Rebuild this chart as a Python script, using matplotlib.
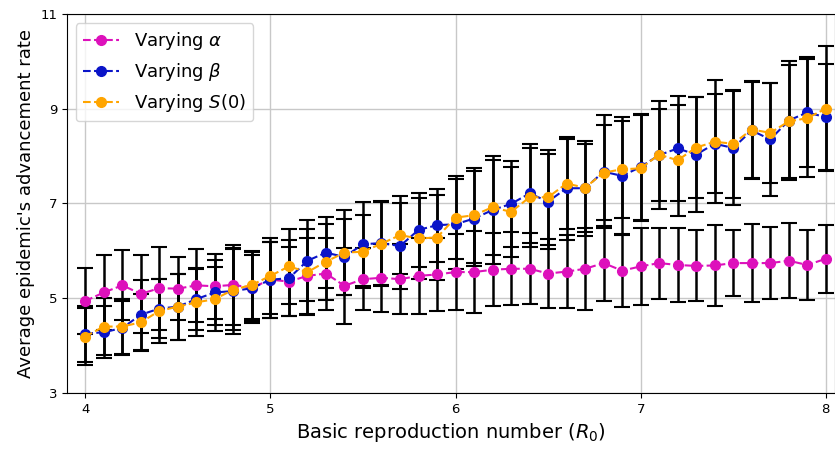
import numpy as np
import matplotlib
matplotlib.use("Agg")
import matplotlib.pyplot as plt

# basic reproduction numbers R0 = 4.0 ... 8.0
r0 = np.round(np.arange(4.0, 8.01, 0.1), 1)

# mean advancement rate
alpha_mean = [4.94, 5.12, 5.27, 5.09, 5.21, 5.20, 5.27, 5.25, 5.28, 5.22,
              5.39, 5.35, 5.47, 5.52, 5.26, 5.40, 5.43, 5.40, 5.47, 5.50,
              5.55, 5.55, 5.60, 5.62, 5.62, 5.52, 5.56, 5.62, 5.74, 5.58,
              5.67, 5.74, 5.70, 5.68, 5.69, 5.74, 5.74, 5.74, 5.79, 5.70, 5.83]
beta_mean = [4.25, 4.28, 4.37, 4.65, 4.78, 4.82, 4.98, 5.12, 5.15, 5.21,
             5.39, 5.42, 5.79, 5.96, 5.87, 6.14, 6.16, 6.10, 6.44, 6.54,
             6.56, 6.68, 6.86, 6.99, 7.21, 7.04, 7.32, 7.32, 7.67, 7.58,
             7.77, 8.02, 8.16, 8.03, 8.26, 8.17, 8.54, 8.35, 8.75, 8.92, 8.82]
s0_mean = [4.19, 4.40, 4.40, 4.49, 4.73, 4.82, 4.91, 4.98, 5.18, 5.28,
           5.47, 5.67, 5.55, 5.77, 5.96, 5.98, 6.15, 6.33, 6.26, 6.28,
           6.70, 6.75, 6.92, 6.82, 7.13, 7.13, 7.42, 7.33, 7.65, 7.72,
           7.74, 8.03, 7.91, 8.18, 8.30, 8.26, 8.56, 8.49, 8.73, 8.80, 9.00]

# standard deviations (half length of the error bars)
alpha_std = [0.70, 0.79, 0.74, 0.82, 0.88, 0.67, 0.77, 0.69, 0.85, 0.75,
             0.80, 0.72, 0.80, 0.76, 0.80, 0.65, 0.72, 0.74, 0.81, 0.78,
             0.81, 0.86, 0.77, 0.77, 0.75, 0.72, 0.77, 0.86, 0.79, 0.77,
             0.81, 0.75, 0.79, 0.75, 0.85, 0.70, 0.83, 0.76, 0.79, 0.74, 0.72]
beta_std = [0.59, 0.55, 0.58, 0.74, 0.62, 0.70, 0.65, 0.69, 0.90, 0.70,
            0.80, 0.80, 0.85, 0.75, 0.80, 0.88, 0.89, 0.91, 0.79, 0.77,
            0.95, 1.00, 1.14, 0.90, 1.05, 1.00, 1.09, 1.00, 1.19, 1.24,
            1.12, 1.14, 1.10, 1.21, 1.05, 1.20, 1.03, 1.20, 1.25, 1.16, 1.12]
s0_std = [0.60, 0.60, 0.58, 0.60, 0.68, 0.70, 0.70, 0.68, 0.85, 0.72,
          0.80, 0.79, 0.90, 0.80, 0.90, 0.77, 0.89, 0.82, 0.85, 0.90,
          0.88, 1.00, 1.00, 0.95, 1.05, 1.00, 0.95, 0.93, 1.00, 1.02,
          1.12, 0.97, 1.17, 1.07, 1.30, 1.14, 1.03, 1.05, 1.20, 1.25, 1.32]

series = [
    ("Varying $\\alpha$", alpha_mean, alpha_std, "#dd11bb"),
    ("Varying $\\beta$", beta_mean, beta_std, "#0a14c8"),
    ("Varying $S(0)$", s0_mean, s0_std, "#ffa500"),
]

fig = plt.figure(figsize=(8.35, 4.49), dpi=100)
ax = fig.add_axes([0.080, 0.125, 0.920, 0.844])

for label, mean, std, color in series:
    ax.errorbar(r0, mean, yerr=std, fmt="none", ecolor="black",
                elinewidth=1.8, capsize=6, capthick=1.5, zorder=2)
    ax.plot(r0, mean, "--o", color=color, markersize=7, linewidth=1.5,
            label=label, zorder=3)

ax.set_xlim(3.9, 8.05)
ax.set_ylim(3, 11)
ax.set_xticks([4, 5, 6, 7, 8])
ax.set_yticks([3, 5, 7, 9, 11])
ax.tick_params(labelsize=9.5)
ax.grid(True, color="#c8c8c8", linewidth=1)
ax.set_axisbelow(True)

ax.set_xlabel("Basic reproduction number ($R_0$)", fontsize=14)
ax.set_ylabel("Average epidemic's advancement rate", fontsize=13)
ax.legend(loc="upper left", fontsize=13)

fig.savefig("out.png", dpi=100)
